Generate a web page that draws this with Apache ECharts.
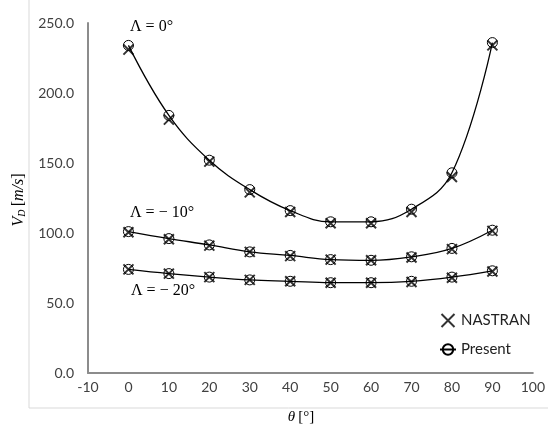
<!DOCTYPE html>
<html><head><meta charset="utf-8">
<script src="https://cdn.jsdelivr.net/npm/echarts@6/dist/echarts.min.js"></script>
<style>html,body{margin:0;padding:0;background:#fff}#c{width:548px;height:426px}</style>
</head><body><div id="c"></div>
<script>
const thetas = [0, 10, 20, 30, 40, 50, 60, 70, 80, 90];
const xTicks = [-10, 0, 10, 20, 30, 40, 50, 60, 70, 80, 90, 100];
const yTicks = [0, 50, 100, 150, 200, 250];
const present0 = [234, 184, 152, 131, 116, 108, 108, 117, 143, 236];
const nastran0 = [231, 181, 151, 129, 115, 107, 107, 115, 140, 234];
const present10 = [101, 96, 91.5, 86.5, 84, 81, 80.5, 83, 89, 102];
const nastran10 = [100.5, 95.5, 91, 86.5, 83.5, 81, 80.5, 82.5, 88.5, 101.5];
const present20 = [74, 71, 68.5, 66.5, 65.5, 64.5, 64.5, 65.5, 68.5, 73];
const nastran20 = [74, 71, 68.5, 66.5, 65.5, 64.5, 64.5, 65, 68, 72.5];
const curveLabels = ['Λ = 0°', 'Λ = − 10°', 'Λ = − 20°'];

const pair = arr => arr.map((v, i) => [thetas[i], v]);
const crossPath = 'path://M0,0L10,10M10,0L0,10';
const TICKFONT = 'Lato, "Open Sans", sans-serif';
const SERIF = '"Liberation Serif", "DejaVu Serif", serif';

function presentSeries(arr) {
  return {
    type: 'line', name: 'Present', data: pair(arr), smooth: 0.4,
    symbol: 'circle', symbolSize: 10, showAllSymbol: true,
    lineStyle: { color: '#000', width: 1.3 },
    itemStyle: { color: 'transparent', borderColor: '#000', borderWidth: 1 },
    z: 2
  };
}
function nastranSeries(arr) {
  return {
    type: 'scatter', name: 'NASTRAN', data: pair(arr),
    symbol: crossPath, symbolSize: 10,
    itemStyle: { color: 'transparent', borderColor: '#000', borderWidth: 2 },
    z: 3
  };
}

const chart = echarts.init(document.getElementById('c'));
chart.setOption({
  animation: false,
  backgroundColor: '#fff',
  grid: { left: 88, right: 11, top: 23, bottom: 53 },
  xAxis: {
    type: 'value', min: xTicks[0], max: xTicks[xTicks.length - 1], interval: 10,
    axisLine: { onZero: false, lineStyle: { color: '#8c8c8c', width: 2 } },
    axisTick: { show: false }, splitLine: { show: false },
    axisLabel: { color: '#404040', fontFamily: TICKFONT, fontSize: 14, margin: 7 }
  },
  yAxis: {
    type: 'value', min: yTicks[0], max: yTicks[yTicks.length - 1], interval: 50,
    axisLine: { show: true, onZero: false, lineStyle: { color: '#8c8c8c', width: 2 } },
    axisTick: { show: false }, splitLine: { show: false },
    axisLabel: { color: '#404040', fontFamily: TICKFONT, fontSize: 14, margin: 14,
      formatter: v => v.toFixed(1) }
  },
  legend: {
    orient: 'vertical', left: 434, top: 308, itemGap: 14,
    itemWidth: 16, itemHeight: 13,
    textStyle: { color: '#222', fontFamily: TICKFONT, fontSize: 15 },
    data: [
      { name: 'NASTRAN', icon: crossPath,
        itemStyle: { color: 'transparent', borderColor: '#000', borderWidth: 2 } },
      { name: 'Present' }
    ]
  },
  series: [
    presentSeries(present0), nastranSeries(nastran0),
    presentSeries(present10), nastranSeries(nastran10),
    presentSeries(present20), nastranSeries(nastran20)
  ],
  graphic: [
    { type: 'line', shape: { x1: 29, y1: 0, x2: 29, y2: 408 }, style: { stroke: '#d9d9d9', lineWidth: 1 } },
    { type: 'line', shape: { x1: 29, y1: 408, x2: 548, y2: 408 }, style: { stroke: '#d9d9d9', lineWidth: 1 } },
    { type: 'text', x: 130, y: 27, style: { text: curveLabels[0], font: '16px ' + SERIF, fill: '#000', verticalAlign: 'middle' } },
    { type: 'text', x: 130, y: 213, style: { text: curveLabels[1], font: '16px ' + SERIF, fill: '#000', verticalAlign: 'middle' } },
    { type: 'text', x: 131, y: 291, style: { text: curveLabels[2], font: '16px ' + SERIF, fill: '#000', verticalAlign: 'middle' } },
    { type: 'text', x: 19, y: 200, rotation: Math.PI / 2,
      style: { text: '{v|V}{s|D} {n|[}{i|m/s}{n|]}', align: 'center', verticalAlign: 'middle',
        rich: {
          v: { fontFamily: SERIF, fontSize: 16, fontStyle: 'italic', fill: '#000' },
          s: { fontFamily: SERIF, fontSize: 10, fontStyle: 'italic', fill: '#000', verticalAlign: 'bottom', padding: [6, 0, 0, 0] },
          n: { fontFamily: SERIF, fontSize: 16, fill: '#000' },
          i: { fontFamily: SERIF, fontSize: 16, fontStyle: 'italic', fill: '#000' }
        } } },
    { type: 'text', x: 301, y: 417,
      style: { text: '{i|θ} {n|[°]}', align: 'center', verticalAlign: 'middle',
        rich: {
          i: { fontFamily: SERIF, fontSize: 15, fontStyle: 'italic', fill: '#000' },
          n: { fontFamily: SERIF, fontSize: 15, fill: '#000' }
        } } }
  ]
});
</script></body></html>
